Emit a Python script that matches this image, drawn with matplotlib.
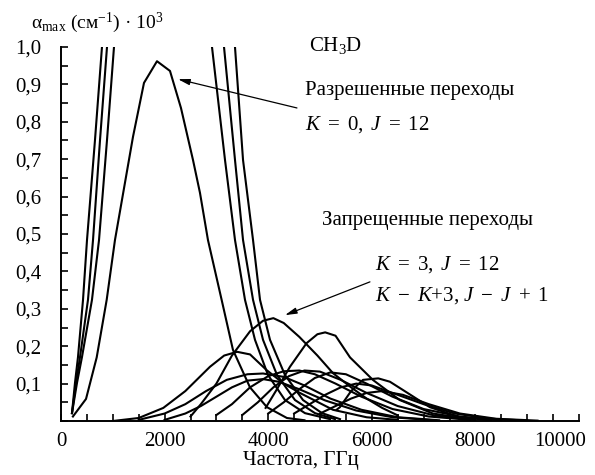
import numpy as np
import matplotlib
matplotlib.use("Agg")
import matplotlib.pyplot as plt
from matplotlib.transforms import ScaledTranslation

plt.rcParams['font.family'] = 'serif'
plt.rcParams['font.serif'] = ['Liberation Serif', 'DejaVu Serif']
plt.rcParams['mathtext.fontset'] = 'custom'
plt.rcParams['mathtext.rm'] = 'Liberation Serif'
plt.rcParams['mathtext.it'] = 'Liberation Serif:italic'
plt.rcParams['mathtext.bf'] = 'Liberation Serif:bold'
SERIF = 'Liberation Serif'

# ---- allowed transitions (K=0, J=12 peaked curve and steep branches) ----
peak_x = [230, 483, 689, 882, 1042, 1390, 1602, 1853, 2104, 2316, 2548, 2683,
          2837, 3101, 3320, 3648, 3976, 4362, 4700]
peak_y = [0.012, 0.059, 0.17, 0.324, 0.484, 0.76, 0.904, 0.962, 0.936, 0.837,
          0.698, 0.61, 0.484, 0.324, 0.19, 0.09, 0.037, 0.008, 0.002]

rise1_x = [212, 270, 328, 425, 502, 656, 791, 830]
rise2_x = [212, 290, 367, 521, 618, 753, 888, 927]
rise3_x = [212, 309, 405, 598, 734, 888, 1023, 1062]
rise_y = [0.021, 0.102, 0.171, 0.324, 0.484, 0.751, 1.0, 1.1]

fall1_x = [2840, 2915, 3166, 3359, 3552, 3745, 3996, 4324, 4710, 5193]
fall2_x = [3070, 3147, 3359, 3514, 3707, 3900, 4170, 4517, 4903, 5290]
fall3_x = [3282, 3359, 3514, 3707, 3842, 4035, 4324, 4672, 5039, 5386]
fall_y = [1.1, 1.0, 0.698, 0.484, 0.324, 0.217, 0.123, 0.056, 0.021, 0.005]

# ---- forbidden transitions ----
fa_x = [2500, 2700, 3000, 3300, 3650, 3900, 4100, 4300, 4600, 4950, 5250, 5600, 5900, 6200, 6500]
fa_y = [0.012, 0.045, 0.10, 0.175, 0.24, 0.268, 0.275, 0.262, 0.225, 0.175, 0.128, 0.09, 0.06, 0.035, 0.015]

fb_x = [3950, 4160, 4420, 4740, 4950, 5100, 5300, 5580, 6020, 6540, 7180, 7830]
fb_y = [0.035, 0.083, 0.145, 0.208, 0.232, 0.237, 0.228, 0.17, 0.11, 0.056, 0.02, 0.006]

fc_x = [1000, 1500, 1975, 2400, 2876, 3150, 3400, 3650, 3970, 4300, 4613, 5250, 5900, 6500]
fc_y = [0.0, 0.008, 0.035, 0.08, 0.145, 0.175, 0.185, 0.178, 0.136, 0.1, 0.075, 0.03, 0.01, 0.003]

fd_x = [5320, 5385, 5600, 5830, 6125, 6350, 6600, 7120, 7700, 8300]
fd_y = [0.03, 0.037, 0.08, 0.11, 0.114, 0.105, 0.083, 0.037, 0.01, 0.002]

fe_x = [1500, 2000, 2400, 2800, 3200, 3600, 3900, 4300, 4700, 5200, 5800, 6500, 7300]
fe_y = [0.003, 0.02, 0.045, 0.08, 0.11, 0.125, 0.127, 0.118, 0.095, 0.06, 0.03, 0.01, 0.002]

ff_x = [2000, 2400, 2700, 3000, 3300, 3600, 3900, 4200, 4600, 5100, 5700, 6400, 7200]
ff_y = [0.003, 0.02, 0.04, 0.065, 0.09, 0.108, 0.112, 0.105, 0.085, 0.055, 0.028, 0.01, 0.002]

fg_x = [3000, 3300, 3650, 4000, 4300, 4600, 4900, 5300, 5800, 6400, 7100, 7900]
fg_y = [0.016, 0.045, 0.09, 0.12, 0.133, 0.135, 0.125, 0.1, 0.065, 0.032, 0.012, 0.003]

fh_x = [3500, 3800, 4100, 4400, 4700, 5000, 5400, 5900, 6500, 7200, 8000]
fh_y = [0.016, 0.05, 0.09, 0.12, 0.135, 0.132, 0.11, 0.075, 0.04, 0.015, 0.003]

fi_x = [4000, 4300, 4600, 4900, 5200, 5500, 5900, 6400, 7000, 7700, 8500]
fi_y = [0.02, 0.05, 0.085, 0.115, 0.13, 0.125, 0.1, 0.065, 0.032, 0.012, 0.002]

fj_x = [4500, 4800, 5100, 5400, 5700, 6000, 6500, 7000, 7600, 8300, 9000]
fj_y = [0.02, 0.045, 0.07, 0.09, 0.1, 0.095, 0.07, 0.045, 0.02, 0.006, 0.001]

fk_x = [5000, 5300, 5600, 5900, 6200, 6600, 7100, 7700, 8400, 9200]
fk_y = [0.02, 0.04, 0.06, 0.075, 0.08, 0.07, 0.045, 0.02, 0.006, 0.001]

x_major = [0, 2000, 4000, 6000, 8000, 10000]
x_labels = ['0', '2000', '4000', '6000', '8000', '10000']
y_major = [0.1, 0.2, 0.3, 0.4, 0.5, 0.6, 0.7, 0.8, 0.9, 1.0]
y_labels = ['0,1', '0,2', '0,3', '0,4', '0,5', '0,6', '0,7', '0,8', '0,9', '1,0']

W, H = 595, 475
fig = plt.figure(figsize=(W / 100, H / 100), dpi=100)
ax = fig.add_axes([61 / W, 1 - 421 / H, (579 - 61) / W, (421 - 47) / H])

lw = 1.5
curves = [
    (peak_x, peak_y), (rise1_x, rise_y), (rise2_x, rise_y), (rise3_x, rise_y),
    (fall1_x, fall_y), (fall2_x, fall_y), (fall3_x, fall_y),
    (fa_x, fa_y), (fb_x, fb_y), (fc_x, fc_y), (fd_x, fd_y), (fe_x, fe_y),
    (ff_x, ff_y), (fg_x, fg_y), (fh_x, fh_y), (fi_x, fi_y), (fj_x, fj_y), (fk_x, fk_y),
]
for cx, cy in curves:
    ax.plot(cx, cy, color='black', lw=lw)

ax.set_xlim(0, 10000)
ax.set_ylim(0, 1.0)
for s in ['top', 'right']:
    ax.spines[s].set_visible(False)
for s in ['left', 'bottom']:
    ax.spines[s].set_linewidth(1.4)

fs = 15
ax.set_xticks(x_major)
ax.set_xticklabels(x_labels, family=SERIF, fontsize=fs)
ax.set_xticks(np.arange(0, 10001, 500), minor=True)
ax.set_yticks(y_major)
ax.set_yticklabels(y_labels, family=SERIF, fontsize=fs)
ax.set_yticks(np.arange(0, 1.0001, 0.05), minor=True)
ax.tick_params(which='both', direction='in', length=5, width=1.2)
ax.tick_params(axis='x', which='both', pad=8)
ax.tick_params(axis='y', which='both', pad=14)

# shift last x label left as in the reference
lab = ax.get_xticklabels()[-1]
lab.set_transform(lab.get_transform() + ScaledTranslation(-0.19, 0, fig.dpi_scale_trans))


def ftext(px, py, s, **kw):
    fig.text(px / W, 1 - py / H, s, fontsize=kw.pop('fontsize', fs), va='center', ha='left',
             family=SERIF, **kw)


ftext(31, 23, r"α$_{\mathrm{max}}$ (см$^{-1}$) · 10$^{3}$", fontsize=14)
ftext(309, 46, r"CH$_3$D")
ftext(305, 90, "Разрешенные переходы")
ftext(305, 125, r"$K\ =\ 0,\ J\ =\ 12$")
ftext(322, 220, "Запрещенные переходы")
ftext(375, 265, r"$K\ =\ 3,\ J\ =\ 12$")
ftext(375, 296, r"$K\ -\ K$+3, $J\ -\ J\ +\ 1$")

fig.text(301 / W, 1 - 461 / H, "Частота, ГГц", fontsize=fs, ha='center', va='center', family=SERIF)

arrow = dict(arrowstyle='-|>,head_length=0.7,head_width=0.18', color='black', lw=0.9,
             shrinkA=0, shrinkB=0)
ax.annotate('', xy=(2258, 0.914), xytext=(4555, 0.837), arrowprops=arrow, annotation_clip=False)
ax.annotate('', xy=(4323, 0.283), xytext=(5964, 0.372), arrowprops=arrow, annotation_clip=False)

fig.savefig('out.png', dpi=100)
